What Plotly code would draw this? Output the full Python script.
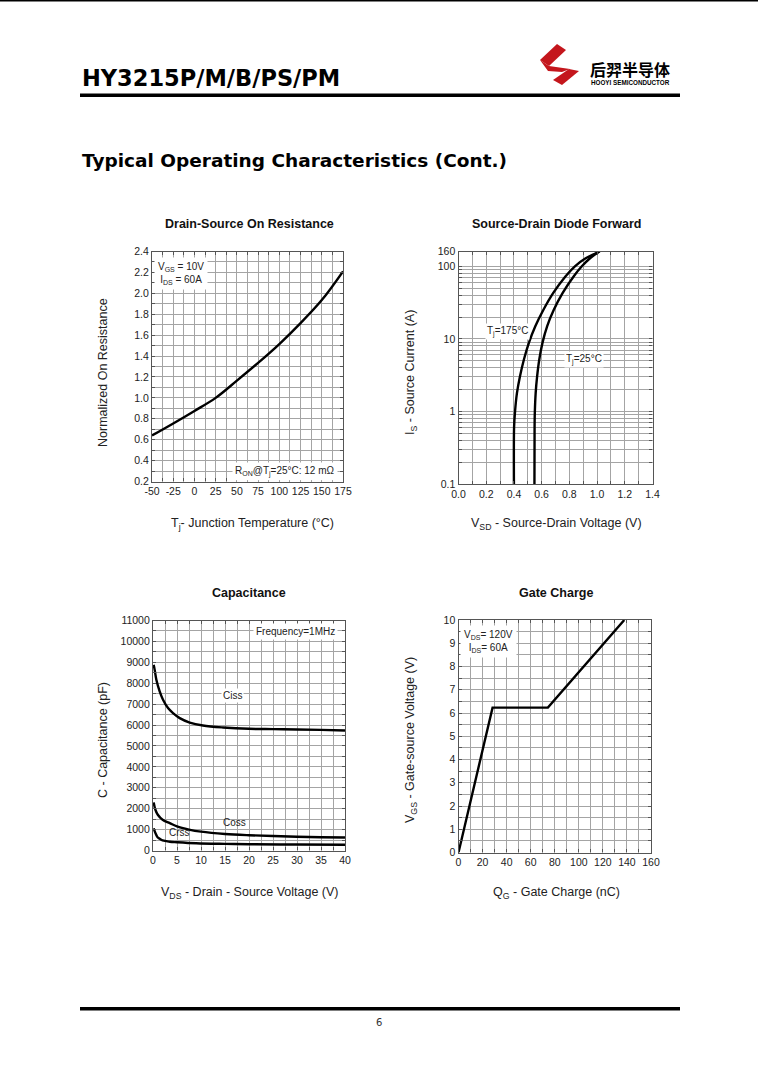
import math
import plotly.graph_objects as go

W, H = 758, 1079

# ---------------- data ----------------
ron_temp = [-50, -25, 0, 25, 50, 75, 100, 125, 150, 175]
ron_norm = [0.64, 0.755, 0.875, 1.0, 1.165, 1.335, 1.515, 1.715, 1.935, 2.21]

is_diode = [0.1, 0.6, 1.0, 1.8, 3.0, 5.2, 8.8, 15, 25, 43, 73, 100, 128, 160]
vsd_175 = [0.400, 0.401, 0.408, 0.422, 0.443, 0.472, 0.508, 0.555, 0.612, 0.684, 0.773, 0.840, 0.915, 1.020]
vsd_25 = [0.548, 0.549, 0.551, 0.557, 0.567, 0.583, 0.606, 0.640, 0.687, 0.752, 0.832, 0.890, 0.947, 1.015]

vds_ciss = [0.14, 0.35, 0.7, 1.39, 2.09, 3.13, 4.17, 5.57, 7.65, 10.4, 14.6, 20, 25, 30, 35, 40]
ciss = [8880, 8640, 8170, 7610, 7210, 6810, 6570, 6330, 6120, 5980, 5885, 5820, 5805, 5790, 5770, 5740]
vds_coss = [0.14, 0.5, 1.0, 2.0, 3.5, 5, 7.5, 10, 15, 20, 25, 30, 35, 40]
coss = [2300, 1950, 1710, 1470, 1310, 1150, 1000, 900, 790, 730, 690, 660, 635, 620]
vds_crss = [0.14, 0.5, 1.0, 1.4, 2.0, 3.5, 5, 9, 15, 20, 30, 40]
crss = [1060, 840, 620, 560, 480, 420, 395, 345, 315, 300, 285, 275]

qg = [0, 28.3, 74.3, 137.8]
vgs = [0, 6.23, 6.23, 10]

# tick labels
t1_x = [-50, -25, 0, 25, 50, 75, 100, 125, 150, 175]
t1_y = [0.2, 0.4, 0.6, 0.8, 1.0, 1.2, 1.4, 1.6, 1.8, 2.0, 2.2, 2.4]
t2_x = [0.0, 0.2, 0.4, 0.6, 0.8, 1.0, 1.2, 1.4]
t2_y = [0.1, 1, 10, 100, 160]
t3_x = [0, 5, 10, 15, 20, 25, 30, 35, 40]
t3_y = list(range(0, 11001, 1000))
t4_x = list(range(0, 161, 20))
t4_y = list(range(0, 11))


def px(x):
    return x / W


def py(y):
    return 1 - y / H


FONT = "Liberation Sans"
GRID = "#a4a4a4"
AX = "#555555"

fig = go.Figure()
lw = 2.4
fig.add_trace(go.Scatter(x=ron_temp, y=ron_norm, mode="lines", line=dict(color="black", width=lw, shape="spline"),
                         xaxis="x", yaxis="y", showlegend=False, hoverinfo="skip"))
fig.add_trace(go.Scatter(x=vsd_175, y=is_diode, mode="lines", line=dict(color="black", width=lw, shape="spline", smoothing=0.8),
                         xaxis="x2", yaxis="y2", showlegend=False, hoverinfo="skip"))
fig.add_trace(go.Scatter(x=vsd_25, y=is_diode, mode="lines", line=dict(color="black", width=lw, shape="spline", smoothing=0.8),
                         xaxis="x2", yaxis="y2", showlegend=False, hoverinfo="skip"))
fig.add_trace(go.Scatter(x=vds_ciss, y=ciss, mode="lines", line=dict(color="black", width=lw, shape="spline"),
                         xaxis="x3", yaxis="y3", showlegend=False, hoverinfo="skip"))
fig.add_trace(go.Scatter(x=vds_coss, y=coss, mode="lines", line=dict(color="black", width=lw, shape="spline"),
                         xaxis="x3", yaxis="y3", showlegend=False, hoverinfo="skip"))
fig.add_trace(go.Scatter(x=vds_crss, y=crss, mode="lines", line=dict(color="black", width=lw, shape="spline"),
                         xaxis="x3", yaxis="y3", showlegend=False, hoverinfo="skip"))
fig.add_trace(go.Scatter(x=qg, y=vgs, mode="lines", line=dict(color="black", width=lw),
                         xaxis="x4", yaxis="y4", showlegend=False, hoverinfo="skip"))


def axis(domain, rng, tickvals, minor_dtick=None, minor_vals=None, anchor=None, typ="linear", ticktext=None):
    d = dict(domain=domain, range=rng, tickmode="array", tickvals=tickvals,
             showgrid=True, gridcolor=GRID, gridwidth=1, zeroline=False,
             showline=True, linecolor=AX, linewidth=1.2, mirror="ticks",
             ticks="inside", ticklen=3, tickcolor=AX, automargin=False,
             tickfont=dict(family=FONT, size=10.5, color="#222"), anchor=anchor, type=typ,
             fixedrange=True)
    if ticktext is not None:
        d["ticktext"] = ticktext
    if minor_dtick is not None:
        d["minor"] = dict(dtick=minor_dtick, showgrid=True, gridcolor=GRID, gridwidth=1, ticks="inside",
                          ticklen=3, tickcolor=AX)
    if minor_vals is not None:
        d["minor"] = dict(tickmode="array", tickvals=minor_vals, showgrid=True, gridcolor=GRID, gridwidth=1,
                          ticks="inside", ticklen=3, tickcolor=AX)
    return d


log_minor = []
for dec in [0.1, 1, 10, 100]:
    for k in range(2, 10):
        v = dec * k
        if v < 160:
            log_minor.append(v)

layout = dict(
    template="none",
    width=W, height=H, margin=dict(l=0, r=0, t=0, b=0, pad=0, autoexpand=False),
    paper_bgcolor="white", plot_bgcolor="white", showlegend=False,
    xaxis=axis([px(152), px(343)], [-50, 175], t1_x, minor_dtick=12.5, anchor="y",
               ticktext=[str(v) for v in t1_x]),
    yaxis=axis([py(481.5), py(251.5)], [0.2, 2.4], t1_y, minor_dtick=0.1, anchor="x",
               ticktext=[f"{v:.1f}" for v in t1_y]),
    xaxis2=axis([px(458.5), px(652.5)], [0, 1.4], t2_x, minor_dtick=0.1, anchor="y2",
                ticktext=[f"{v:.1f}" for v in t2_x]),
    yaxis2=axis([py(484), py(251.5)], [-1, math.log10(160)], t2_y, minor_vals=log_minor, anchor="x2", typ="log",
                ticktext=["0.1", "1", "10", "100", "160"]),
    xaxis3=axis([px(153), px(345)], [0, 40], t3_x, minor_dtick=2.5, anchor="y3",
                ticktext=[str(v) for v in t3_x]),
    yaxis3=axis([py(850.5), py(620.5)], [0, 11000], t3_y, minor_dtick=500, anchor="x3",
                ticktext=[str(v) for v in t3_y]),
    xaxis4=axis([px(458.5), px(651)], [0, 160], t4_x, minor_dtick=10, anchor="y4",
                ticktext=[str(v) for v in t4_x]),
    yaxis4=axis([py(852.5), py(620)], [0, 10], t4_y, minor_dtick=0.5, anchor="x4",
                ticktext=[str(v) for v in t4_y]),
)
fig.update_layout(**layout)

ann = []


def text(x, y, s, size=12.5, family=FONT, color="#111", xanchor="center", angle=0, bg=None, pad=1):
    a = dict(x=px(x), y=py(y), xref="paper", yref="paper", text=s, showarrow=False,
             font=dict(family=family, size=size, color=color), xanchor=xanchor, yanchor="middle",
             textangle=angle, borderpad=pad)
    if bg:
        a["bgcolor"] = bg
    ann.append(a)


# page header
text(80, 78, "<b>HY3215P/M/B/PS/PM</b>", size=22.5, family="DejaVu Sans", color="black", xanchor="left")
text(630, 69, "<b>后羿半导体</b>", size=16, family="Noto Sans CJK SC", color="black")
text(630, 82.5, "<b>HOOYI SEMICONDUCTOR</b>", size=6.3, family="Liberation Sans", color="black")
text(80, 161, "<b>Typical Operating Characteristics (Cont.)</b>", size=18.5, family="DejaVu Sans", color="black",
     xanchor="left")
text(379, 1022, "6", size=10, family="DejaVu Sans", color="#333")

# chart titles
text(249, 224, "<b>Drain-Source On Resistance</b>")
text(556, 224, "<b>Source-Drain Diode Forward</b>")
text(249, 593, "<b>Capacitance</b>")
text(556, 593, "<b>Gate Charge</b>")

# axis titles
text(252, 524, "T<sub>j</sub>- Junction Temperature (°C)", color="#222")
text(556, 524, "V<sub>SD</sub> - Source-Drain Voltage (V)", color="#222")
text(250, 893, "V<sub>DS</sub> - Drain - Source Voltage (V)", color="#222")
text(556, 893, "Q<sub>G</sub> - Gate Charge (nC)", color="#222")
text(103, 373, "Normalized On Resistance", angle=-90, color="#222")
text(411, 373, "I<sub>S</sub> - Source Current (A)", angle=-90, color="#222")
text(103, 740, "C - Capacitance (pF)", angle=-90, color="#222")
text(411, 740, "V<sub>GS</sub> - Gate-source Voltage (V)", angle=-90, color="#222")

# in-chart notes
text(181, 273, "V<sub>GS</sub> = 10V<br>I<sub>DS</sub> = 60A", size=10, color="#222", bg="white", pad=3)
text(338, 471.5, "R<sub>ON</sub>@T<sub>j</sub>=25°C: 12 mΩ", size=10, color="#222", xanchor="right", bg="white", pad=2)
text(507, 331, "T<sub>j</sub>=175°C", size=10, color="#222", bg="white", pad=1)
text(584, 359, "T<sub>j</sub>=25°C", size=10, color="#222", bg="white", pad=1)
text(338, 631.5, "Frequency=1MHz", size=10, color="#222", xanchor="right", bg="white", pad=2)
text(232, 695, "Ciss", size=10, color="#222", bg="white", pad=1)
text(234, 822, "Coss", size=10, color="#222")
text(179, 832.5, "Crss", size=10, color="#222")
text(488, 641, "V<sub>DS</sub>= 120V<br>I<sub>DS</sub>= 60A", size=10, color="#222", bg="white", pad=3)

fig.update_layout(annotations=ann)

# page decorations
shapes = []


def rect(x0, y0, x1, y1, color="black"):
    shapes.append(dict(type="rect", xref="paper", yref="paper", x0=px(x0), x1=px(x1), y0=py(y1), y1=py(y0),
                       fillcolor=color, line=dict(width=0), layer="above"))


def poly(pts, color="#c4161c"):
    path = "M " + " L ".join(f"{px(x)},{py(y)}" for x, y in pts) + " Z"
    shapes.append(dict(type="path", xref="paper", yref="paper", path=path, fillcolor=color,
                       line=dict(width=0), layer="above"))


rect(0, 0, 758, 1.5)
rect(80, 93.5, 680, 97)
rect(80, 1007, 680, 1010.5)
# logo
poly([(557, 44), (566, 50), (549, 66), (540, 60)])
poly([(540, 60), (549, 66), (570, 69), (562, 72), (548, 71)])
poly([(569, 69), (579, 71), (562, 85), (553, 80)])

fig.update_layout(shapes=shapes)

fig.write_html("out.html", config={"displayModeBar": False},
               post_script="document.body.style.margin='0';document.body.style.padding='0';"
                           "document.documentElement.style.overflow='hidden';")
